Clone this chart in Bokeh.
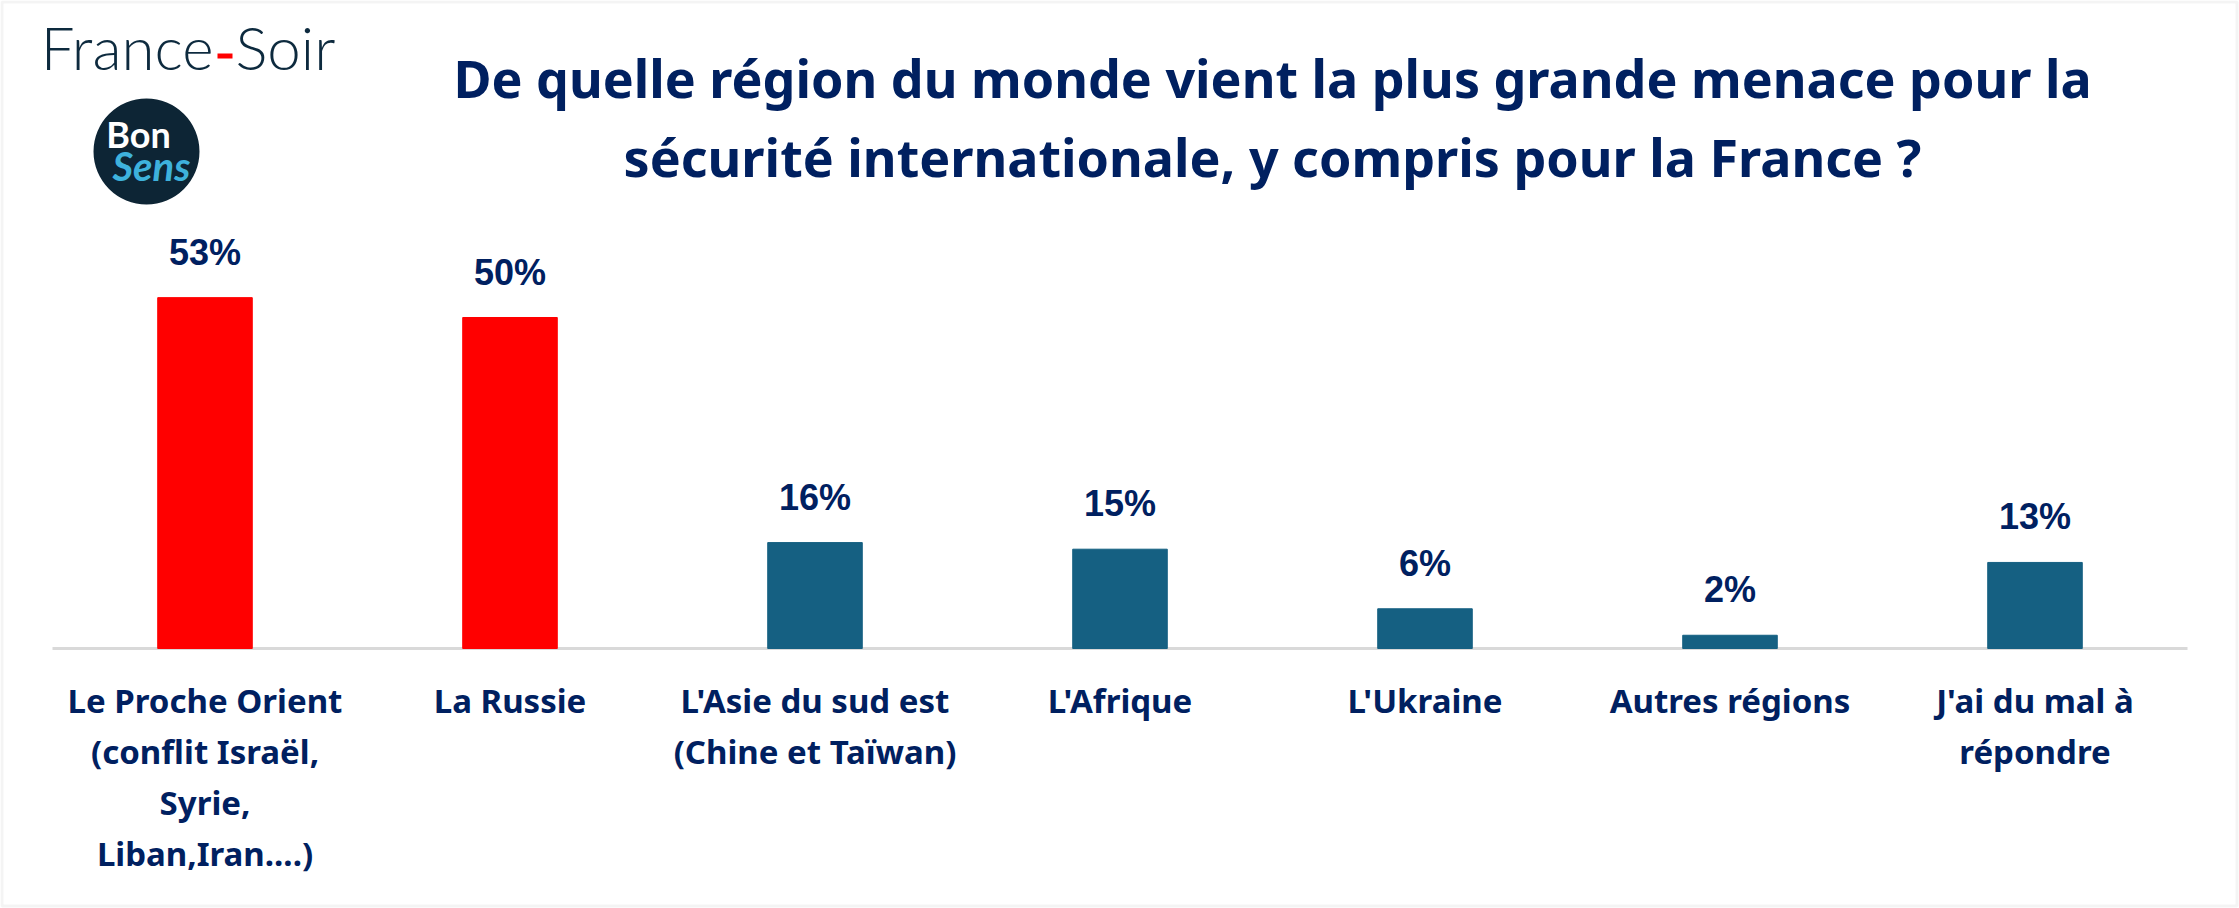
from bokeh.plotting import figure
from bokeh.models import ColumnDataSource, FactorRange, Range1d, LabelSet, Label, BoxAnnotation
from bokeh.core.properties import value
from bokeh.embed import file_html
from bokeh.resources import INLINE

# ---- data ----
categories = [
    "Le Proche Orient\n(conflit Israël,\nSyrie,\nLiban,Iran....)",
    "La Russie",
    "L'Asie du sud est\n(Chine et Taïwan)",
    "L'Afrique",
    "L'Ukraine",
    "Autres régions",
    "J'ai du mal à\nrépondre",
]
values = [53, 50, 16, 15, 6, 2, 13]
value_labels = [f"{v}%" for v in values]
highlight = [True, True, False, False, False, False, False]
title_lines = [
    "De quelle région du monde vient la plus grande menace pour la",
    "sécurité internationale, y compris pour la France ?",
]

# ---- styles / layout ----
RED = "#ff0000"
TEAL = "#156082"
NAVY = "#002060"
colors = [RED if h else TEAL for h in highlight]

W, H = 2239, 908
PX_PER_UNIT = 6.62          # pixels per percentage point
ZERO_Y = 648                # canvas row of the baseline
CAT_LEFT, CAT_RIGHT = 53, 2188   # canvas extent of the category band

n = len(categories)
cat_px = (CAT_RIGHT - CAT_LEFT) / n
pad_side = ((W - (CAT_RIGHT - CAT_LEFT)) / 2) / cat_px

def sy(cy, fs=0):
    """canvas row of a baseline -> screen units up from the frame bottom"""
    return H - cy + 0.41 * fs

src = ColumnDataSource(dict(cat=categories, val=values, lab=value_labels, color=colors,
                            zero=[0] * n))

p = figure(
    width=W, height=H, output_backend="svg", toolbar_location=None, title=None,
    x_range=FactorRange(*categories, range_padding=pad_side, range_padding_units="absolute"),
    y_range=Range1d(-(H - ZERO_Y) / PX_PER_UNIT, ZERO_Y / PX_PER_UNIT),
    x_axis_location=None, y_axis_location=None,
    min_border=0,
)
p.outline_line_color = None
p.xgrid.visible = False
p.ygrid.visible = False
p.background_fill_color = "white"
p.border_fill_color = "white"

# axis line across the category band
p.segment(x0=[0], x1=[n], y0=[0], y1=[0], line_color="#d9d9d9", line_width=3)

p.vbar(x="cat", top="val", width=0.31, color="color", source=src)

# value labels
p.add_layout(LabelSet(
    x="cat", y="val", text="lab", source=src, y_offset=33,
    text_align="center", text_baseline="alphabetic",
    text_font=value("Liberation Sans"), text_font_style="bold",
    text_font_size="36px", text_color=NAVY,
))

# category labels
p.text(x="cat", y="zero", text="cat", source=src, y_offset=29,
       text_align="center", text_baseline="top",
       text_font=value("Noto Sans"), text_font_style="bold",
       text_font_size="33px", text_color=NAVY, text_line_height=1.14)

# title
TFS = 52
for t, cy in zip(title_lines, [98, 177]):
    p.add_layout(Label(
        x=1272, y=sy(cy, TFS), x_units="screen", y_units="screen", text=t,
        text_align="center", text_baseline="alphabetic",
        text_font="Noto Sans", text_font_style="bold",
        text_font_size=f"{TFS}px", text_color=NAVY,
    ))

# France-Soir logo
LFS = 60
p.add_layout(Label(
    x=213, y=sy(71, LFS), x_units="screen", y_units="screen", text="France",
    text_align="right", text_baseline="alphabetic",
    text_font="Lato Light", text_font_size=f"{LFS}px", text_color="#0d2a3e",
))
p.add_layout(Label(
    x=235, y=sy(71, LFS), x_units="screen", y_units="screen", text="Soir",
    text_align="left", text_baseline="alphabetic",
    text_font="Lato Light", text_font_size=f"{LFS}px", text_color="#0d2a3e",
))
p.add_layout(BoxAnnotation(
    left=217, right=232, top=sy(53), bottom=sy(58),
    left_units="screen", right_units="screen", top_units="screen", bottom_units="screen",
    fill_color=RED, fill_alpha=1, line_color=None,
))

# Bon Sens logo
p.add_layout(BoxAnnotation(
    left=93, right=199, top=sy(98), bottom=sy(204),
    left_units="screen", right_units="screen", top_units="screen", bottom_units="screen",
    fill_color="#0d2535", fill_alpha=1, line_color=None, border_radius=53,
))
p.add_layout(Label(
    x=138, y=sy(148, 36), x_units="screen", y_units="screen", text="Bon",
    text_align="center", text_baseline="alphabetic",
    text_font="Lato", text_font_style="bold", text_font_size="36px", text_color="white",
))
p.add_layout(Label(
    x=151, y=sy(182, 40), x_units="screen", y_units="screen", text="Sens",
    text_align="center", text_baseline="alphabetic",
    text_font="Lato", text_font_style="bold italic", text_font_size="40px", text_color="#3eb2dc",
))

# outer border
p.add_layout(BoxAnnotation(
    left=1.5, right=W - 2.5, top=sy(1.5), bottom=sy(H - 2.5),
    left_units="screen", right_units="screen", top_units="screen", bottom_units="screen",
    fill_alpha=0, line_color="#d9d9d9", line_width=3,
))

open("out.html", "w").write(file_html(p, INLINE))
